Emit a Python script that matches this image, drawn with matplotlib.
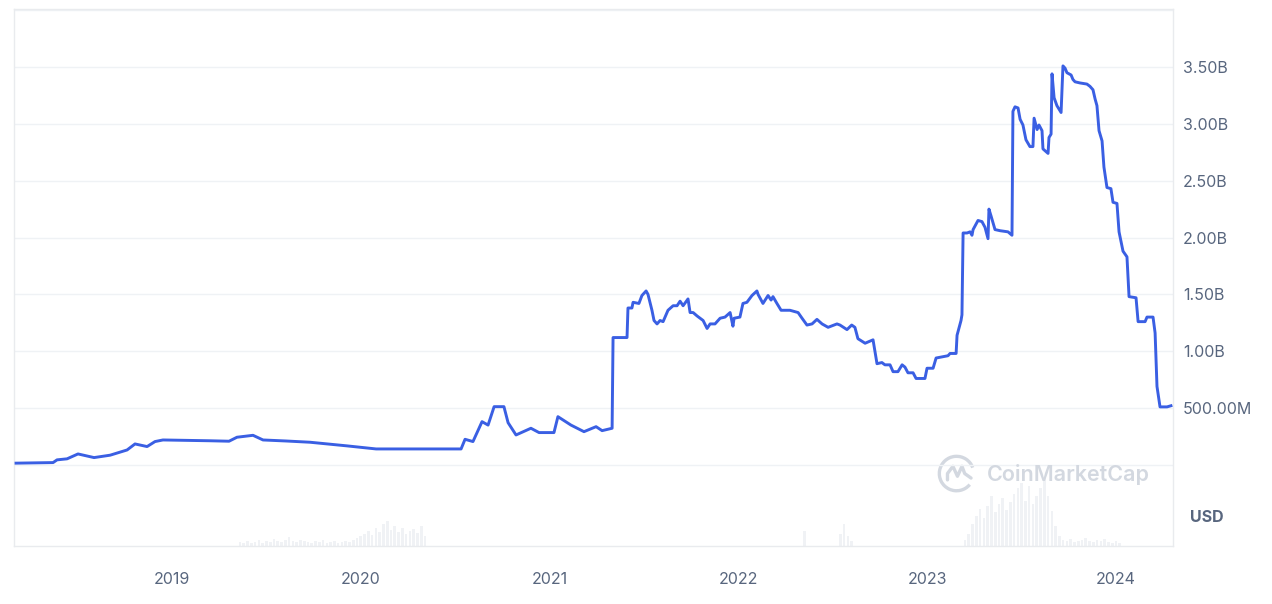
import matplotlib
matplotlib.use("Agg")
import matplotlib.pyplot as plt
from matplotlib.patches import Arc

plt.rcParams['font.family'] = ['Inter', 'DejaVu Sans']

# market cap, decimal year -> millions USD
years = [2018.174, 2018.370, 2018.391, 2018.444, 2018.502, 2018.587, 2018.672, 2018.762,
         2018.804, 2018.868, 2018.910, 2018.952, 2019.100, 2019.200, 2019.302, 2019.344,
         2019.429, 2019.482, 2019.604, 2019.731, 2019.927, 2020.081, 2020.250, 2020.531,
         2020.552, 2020.594, 2020.642, 2020.674, 2020.706, 2020.758, 2020.780, 2020.822,
         2020.901, 2020.944, 2021.023, 2021.044, 2021.113, 2021.182, 2021.246, 2021.278,
         2021.331, 2021.336, 2021.410, 2021.415, 2021.436, 2021.442, 2021.473, 2021.489,
         2021.511, 2021.521, 2021.542, 2021.553, 2021.569, 2021.585, 2021.601, 2021.627,
         2021.654, 2021.675, 2021.691, 2021.707, 2021.733, 2021.744, 2021.760, 2021.781,
         2021.813, 2021.834, 2021.850, 2021.876, 2021.903, 2021.929, 2021.956, 2021.971,
         2021.977, 2022.008, 2022.024, 2022.045, 2022.072, 2022.098, 2022.104, 2022.130,
         2022.157, 2022.173, 2022.183, 2022.204, 2022.226, 2022.247, 2022.273, 2022.316,
         2022.337, 2022.363, 2022.390, 2022.416, 2022.443, 2022.475, 2022.522, 2022.538,
         2022.575, 2022.600, 2022.617, 2022.633, 2022.671, 2022.713, 2022.734, 2022.760,
         2022.776, 2022.803, 2022.819, 2022.845, 2022.867, 2022.882, 2022.898, 2022.925,
         2022.941, 2022.988, 2022.999, 2023.031, 2023.047, 2023.110, 2023.121, 2023.153,
         2023.158, 2023.179, 2023.184, 2023.190, 2023.211, 2023.227, 2023.237, 2023.243,
         2023.269, 2023.290, 2023.306, 2023.322, 2023.327, 2023.338, 2023.359, 2023.386,
         2023.428, 2023.449, 2023.454, 2023.465, 2023.481, 2023.492, 2023.507, 2023.523,
         2023.544, 2023.560, 2023.566, 2023.582, 2023.592, 2023.608, 2023.613, 2023.640,
         2023.645, 2023.656, 2023.661, 2023.672, 2023.687, 2023.709, 2023.719, 2023.730,
         2023.740, 2023.762, 2023.772, 2023.783, 2023.809, 2023.846, 2023.862, 2023.878,
         2023.889, 2023.899, 2023.910, 2023.926, 2023.936, 2023.952, 2023.973, 2023.984,
         2024.005, 2024.016, 2024.037, 2024.058, 2024.069, 2024.106, 2024.117, 2024.154,
         2024.164, 2024.196, 2024.207, 2024.217, 2024.233, 2024.270, 2024.291]
mcap = [15, 20, 44, 53, 96, 64, 85, 131,
        184, 161, 205, 219, 215, 212, 208, 243,
        260, 219, 210, 199, 167, 140, 140, 140,
        225, 205, 380, 350, 512, 512, 371, 263,
        322, 284, 284, 424, 350, 292, 336, 301,
        322, 1120, 1120, 1380, 1380, 1430, 1420, 1490,
        1530, 1500, 1360, 1270, 1240, 1270, 1260, 1360,
        1400, 1400, 1440, 1400, 1460, 1340, 1340, 1310,
        1270, 1200, 1240, 1240, 1290, 1300, 1340, 1220,
        1290, 1300, 1420, 1430, 1490, 1530, 1500, 1420,
        1490, 1450, 1480, 1420, 1360, 1360, 1360, 1340,
        1290, 1230, 1240, 1280, 1240, 1210, 1240, 1230,
        1190, 1230, 1210, 1110, 1070, 1100, 890, 900,
        880, 880, 820, 820, 880, 860, 810, 810,
        760, 760, 850, 850, 940, 960, 980, 980,
        1140, 1270, 1320, 2040, 2040, 2050, 2020, 2070,
        2150, 2140, 2090, 1990, 2250, 2190, 2070, 2060,
        2050, 2020, 3110, 3150, 3140, 3040, 2990, 2860,
        2800, 2800, 3050, 2950, 2990, 2940, 2780, 2740,
        2880, 2910, 3440, 3230, 3160, 3100, 3510, 3490,
        3450, 3430, 3390, 3370, 3360, 3350, 3330, 3300,
        3220, 3160, 2940, 2850, 2620, 2440, 2430, 2310,
        2300, 2050, 1880, 1830, 1480, 1470, 1260, 1260,
        1300, 1300, 1160, 690, 510, 510, 520]

# trading volume (millions USD), only the visible stretches
vol_years = ([2019.36 + 0.02 * i for i in range(31)] +
             [2019.98 + 0.02 * i for i in range(19)] +
             [2022.35, 2022.54, 2022.56, 2022.58, 2022.60] +
             [2023.20 + 0.02 * i for i in range(26)] +
             [2023.72 + 0.02 * i for i in range(16)])
vol_values = ([6, 4, 7, 4, 6, 9, 4, 7, 6, 10, 7, 6, 9, 13, 7, 6, 9, 7, 6, 4, 7, 6, 9, 4, 6, 7, 4, 6, 7, 6, 9] +
              [12, 15, 18, 22, 16, 27, 21, 33, 37, 24, 30, 21, 27, 18, 22, 25, 19, 30, 15] +
              [22, 18, 33, 15, 7] +
              [9, 18, 33, 45, 55, 42, 60, 75, 50, 63, 72, 54, 66, 78, 87, 94, 67, 90, 63, 75, 87, 102, 75, 52, 30, 15] +
              [9, 7, 10, 6, 7, 9, 12, 7, 6, 9, 7, 10, 6, 4, 7, 4])

ticks = [0, 500, 1000, 1500, 2000, 2500, 3000, 3500, 4000]
tick_labels = ['', '500.00M', '1.00B', '1.50B', '2.00B', '2.50B', '3.00B', '3.50B', '']
year_ticks = [2019, 2020, 2021, 2022, 2023, 2024]

grey = '#58667e'
fig = plt.figure(figsize=(12.72, 6.04), dpi=100)
ax = fig.add_axes([0.011, 0.096, 0.9112, 0.889])

# volume on its own scale underneath
axv = ax.twinx()
axv.bar(vol_years, vol_values, width=0.014, color='#f0f2f5', linewidth=0, zorder=1)
axv.set_ylim(0, 800)
axv.set_yticks([])
for s in axv.spines.values():
    s.set_visible(False)
ax.set_zorder(axv.get_zorder() + 1)
ax.patch.set_visible(False)

ax.plot(years, mcap, color='#3a5fe3', linewidth=2.1, solid_joinstyle='round', zorder=3)
ax.set_xlim(2018.163, 2024.302)
ax.set_ylim(-714, 4010)

ax.yaxis.tick_right()
ax.set_yticks(ticks)
ax.set_yticklabels(tick_labels)
ax.tick_params(axis='y', length=0, pad=7, labelsize=11.5, labelcolor=grey)
ax.set_xticks(year_ticks)
ax.set_xticklabels([str(y) for y in year_ticks])
ax.tick_params(axis='x', length=0, pad=19, labelsize=11.5, labelcolor=grey)
ax.grid(axis='y', color='#eff2f5', linewidth=1)
for s in ax.spines.values():
    s.set_color('#e9ebee')
    s.set_linewidth(1)

fig.text(0.9355, 0.144, 'USD', fontsize=11.5, fontweight='bold', color=grey, ha='left', va='center')

# watermark
wm = '#d3d8e0'
fig.text(0.776, 0.215, 'CoinMarketCap', fontsize=15.5, fontweight='semibold', color=wm,
         ha='left', va='center')
lax = fig.add_axes([0.735, 0.183, 0.034, 0.066])
lax.set_xlim(-1.1, 1.1)
lax.set_ylim(-1.1, 1.1)
lax.set_aspect('equal')
lax.axis('off')
lax.add_patch(Arc((0, 0), 1.9, 1.9, theta1=20, theta2=320, color=wm, linewidth=2.4))
lax.plot([-0.5, -0.5, -0.2, 0.05, 0.3, 0.45, 0.8], [-0.35, 0.0, 0.4, -0.15, 0.4, 0.0, -0.25],
         color=wm, linewidth=2.4, solid_capstyle='round')

fig.savefig('out.png', dpi=100, facecolor='white')
